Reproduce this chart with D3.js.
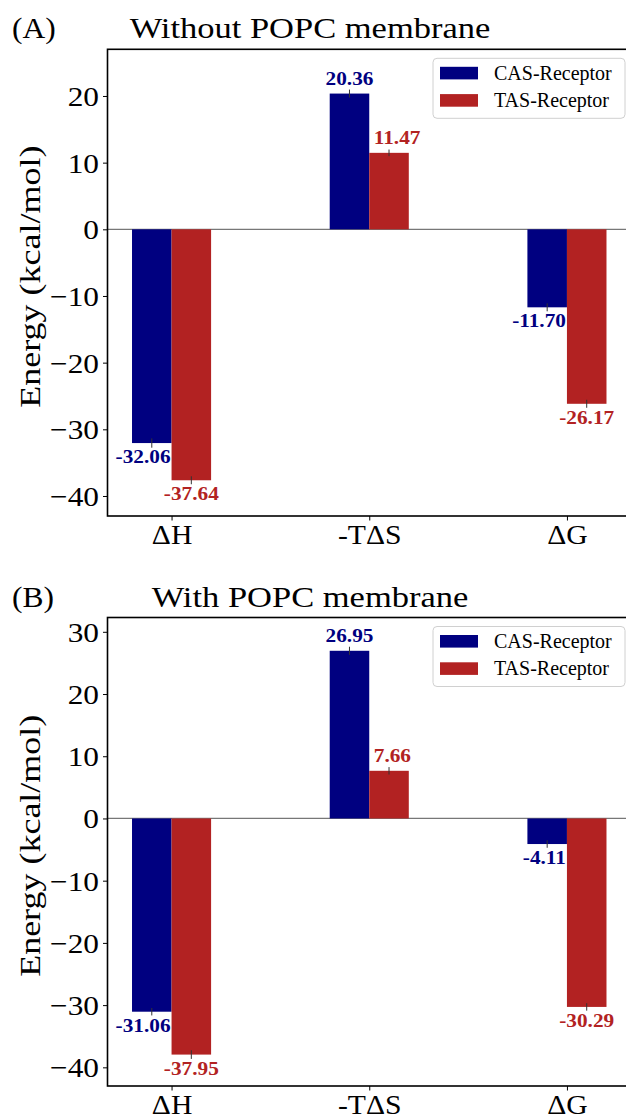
<!DOCTYPE html>
<html>
<head>
<meta charset="utf-8">
<script src="https://cdn.jsdelivr.net/npm/d3@7"></script>
<style>
	body { margin: 0; background: #fff; }
	svg { display: block; }
	text { font-family: 'Liberation Serif', 'DejaVu Serif', serif; }
</style>
</head>
<body>
<script>
var categories = ["ΔH", "-TΔS", "ΔG"];
var seriesNames = ["CAS-Receptor", "TAS-Receptor"];
var seriesColors = ["#000080", "#b22222"];

// without membrane
var casWithout = [-32.06, 20.36, -11.70];
var tasWithout = [-37.64, 11.47, -26.17];
var casWithoutErr = [0.7, 0.6, 0.6];
var tasWithoutErr = [0.6, 0.5, 0.6];

// with membrane
var casWith = [-31.06, 26.95, -4.11];
var tasWith = [-37.95, 7.66, -30.29];
var casWithErr = [0.6, 0.65, 0.6];
var tasWithErr = [0.7, 0.6, 0.6];

var ticksWithout = [-40, -30, -20, -10, 0, 10, 20];
var ticksWith = [-40, -30, -20, -10, 0, 10, 20, 30];

var W = 626, H = 1119;
var FONT = "'Liberation Serif', 'DejaVu Serif', serif";
var barWidth = 0.2;

var panels = [
	{ letter: "(A)", title: "Without POPC membrane", series: [casWithout, tasWithout], errors: [casWithoutErr, tasWithoutErr],
		ticks: ticksWithout, top: 49.3, bottom: 516, yMin: -43, yMax: 27 },
	{ letter: "(B)", title: "With POPC membrane", series: [casWith, tasWith], errors: [casWithErr, tasWithErr],
		ticks: ticksWith, top: 617.5, bottom: 1086, yMin: -43, yMax: 32.3 }
];

var svg = d3.select("body").append("svg")
	.attr("width", W)
	.attr("height", H);

// put a text at x,y stretched horizontally (Computer Modern is wider than Liberation)
function placeText(sel, x, y, sx, rot) {
	sel.attr("x", 0).attr("y", 0)
		.style("font-family", FONT)
		.attr("transform", "translate(" + x + "," + y + ")" + (rot ? " rotate(" + rot + ")" : "") + " scale(" + sx + ",1)");
	return sel;
}

function drawPanel(p) {
	var left = 107.5, right = 631;
	var x = d3.scaleLinear().domain([-0.324, 2.324]).range([left, right]);
	var y = d3.scaleLinear().domain([p.yMin, p.yMax]).range([p.bottom, p.top]);
	var g = svg.append("g");

	// titles
	placeText(g.append("text").text(p.letter), 12, p.top - 11, 1.05)
		.style("font-size", "30px");
	placeText(g.append("text").text(p.title), 310, p.top - 11, 1.15)
		.attr("text-anchor", "middle")
		.style("font-size", "30px");

	// y label
	placeText(g.append("text").text("Energy (kcal/mol)"), 40, (p.top + p.bottom) / 2 - 6, 1.2, -90)
		.attr("text-anchor", "middle")
		.style("font-size", "30px");

	// zero line
	g.append("line")
		.attr("x1", left).attr("x2", right)
		.attr("y1", y(0)).attr("y2", y(0))
		.attr("stroke", "#777")
		.attr("stroke-width", 1.3);

	// bars
	p.series.forEach(function (vals, s) {
		g.append("g").selectAll("rect")
			.data(vals)
			.join("rect")
			.attr("x", function (d, i) { return x(i + (s - 1) * barWidth); })
			.attr("width", x(barWidth) - x(0))
			.attr("y", function (d) { return y(Math.max(0, d)); })
			.attr("height", function (d) { return Math.abs(y(d) - y(0)); })
			.attr("fill", seriesColors[s]);
	});

	// error bars
	p.series.forEach(function (vals, s) {
		g.append("g").selectAll("line")
			.data(vals)
			.join("line")
			.attr("x1", function (d, i) { return x(i + (s - 0.5) * barWidth); })
			.attr("x2", function (d, i) { return x(i + (s - 0.5) * barWidth); })
			.attr("y1", function (d, i) { return y(d - p.errors[s][i]); })
			.attr("y2", function (d, i) { return y(d + p.errors[s][i]); })
			.attr("stroke", "#333")
			.attr("stroke-width", 1);
	});

	// value labels, pushed away from a taller neighbour bar
	var sxLab = 1.12;
	p.series.forEach(function (vals, s) {
		vals.forEach(function (d, i) {
			var cx = x(i + (s - 0.5) * barWidth);
			var t = g.append("text")
				.text(d.toFixed(2))
				.attr("text-anchor", "middle")
				.attr("fill", seriesColors[s])
				.style("font-size", "19px")
				.style("font-weight", "bold");
			var w = t.node().getComputedTextLength() * sxLab;
			var other = p.series[1 - s][i];
			var sameSide = (d < 0) == (other < 0);
			if (sameSide && Math.abs(other) > Math.abs(d)) {
				var edge = x(i);
				if (s == 0 && cx + w / 2 > edge - 1) cx = edge - 1 - w / 2;
				if (s == 1 && cx - w / 2 < edge + 4.5) cx = edge + 4.5 + w / 2;
			}
			var ty = d >= 0 ? y(d) - 9 : y(d) + 20;
			placeText(t, cx, ty, sxLab);
		});
	});

	// frame
	g.append("rect")
		.attr("x", left).attr("y", p.top)
		.attr("width", right - left).attr("height", p.bottom - p.top)
		.attr("fill", "none")
		.attr("stroke", "#000")
		.attr("stroke-width", 1.6);

	// y axis
	var sxTick = 1.12;
	var ya = g.append("g")
		.attr("transform", "translate(" + left + ",0)")
		.call(d3.axisLeft(y).tickValues(p.ticks).tickSize(4.5).tickPadding(4).tickSizeOuter(0));
	ya.attr("font-family", null).attr("font-size", null);
	ya.select(".domain").remove();
	ya.selectAll(".tick line").attr("stroke", "#000").attr("stroke-width", 1);
	ya.selectAll(".tick text")
		.style("font-size", "28px")
		.style("font-family", FONT)
		.attr("fill", "#000")
		.attr("dy", "0.34em")
		.attr("x", -8.5 / sxTick)
		.attr("transform", "scale(" + sxTick + ",1)");

	// x axis
	var xa = g.append("g")
		.attr("transform", "translate(0," + p.bottom + ")")
		.call(d3.axisBottom(x).tickValues([0, 1, 2]).tickFormat(function (d) { return categories[d]; })
			.tickSize(4.5).tickPadding(6).tickSizeOuter(0));
	xa.attr("font-family", null).attr("font-size", null);
	xa.select(".domain").remove();
	xa.selectAll(".tick line").attr("stroke", "#000").attr("stroke-width", 1);
	xa.selectAll(".tick text")
		.style("font-size", "28px")
		.style("font-family", FONT)
		.attr("fill", "#000")
		.attr("dy", null)
		.attr("y", 28)
		.attr("transform", "scale(1.06,1)");

	// legend
	var lgRight = right - 6, lgTop = p.top + 9;
	var lg = g.append("g");
	lg.append("rect")
		.attr("x", lgRight - 192).attr("y", lgTop)
		.attr("width", 192).attr("height", 60)
		.attr("rx", 4)
		.attr("fill", "#fff").attr("fill-opacity", 0.8)
		.attr("stroke", "#d0d0d0").attr("stroke-width", 1);
	seriesNames.forEach(function (name, s) {
		var ry = lgTop + 8.5 + s * 27.3;
		lg.append("rect")
			.attr("x", lgRight - 185).attr("y", ry)
			.attr("width", 38).attr("height", 12.6)
			.attr("fill", seriesColors[s]);
		lg.append("text")
			.text(name)
			.attr("x", lgRight - 131).attr("y", ry + 13)
			.style("font-family", FONT)
			.style("font-size", "20px");
	});
}

panels.forEach(drawPanel);
</script>
</body>
</html>
